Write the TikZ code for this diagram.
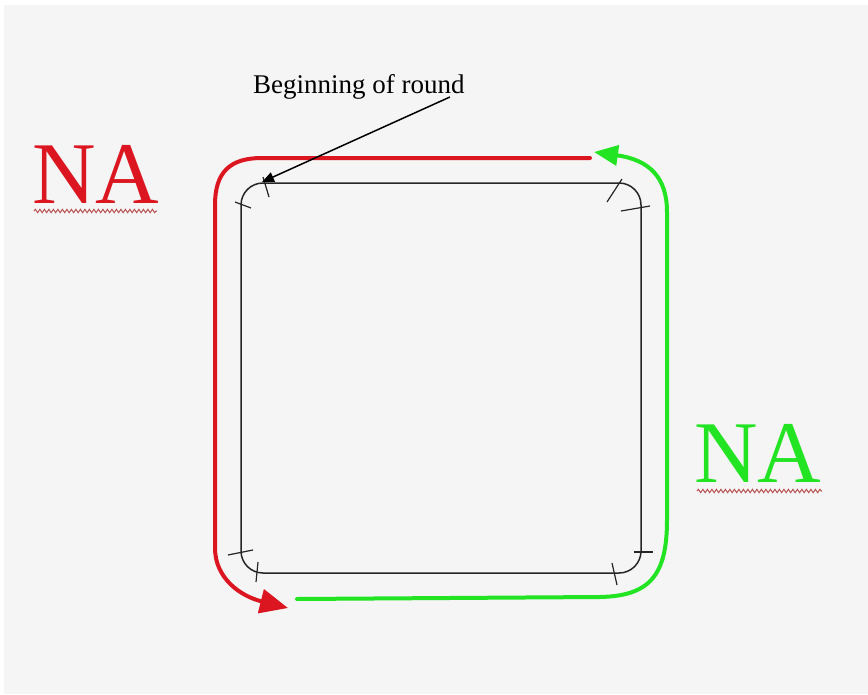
\documentclass[tikz,border=0pt]{standalone}
\usepackage{fontspec}
\setmainfont{Liberation Serif}
\usepackage{tikz}
\usetikzlibrary{arrows.meta,decorations.pathmorphing}
\definecolor{bggray}{RGB}{245,245,245}
\definecolor{nared}{RGB}{220,22,32}
\definecolor{nagreen}{RGB}{35,228,35}
\definecolor{squig}{RGB}{185,80,80}

\begin{document}
\begin{tikzpicture}[x=1pt,y=-1pt,
  redpath/.style={nared,line width=4pt,line cap=round},
  greenpath/.style={nagreen,line width=4pt,line cap=round},
  spellmark/.style={squig,line width=1pt,decorate,decoration={snake,amplitude=1.7pt,segment length=4.5pt}},
  bigna/.style={anchor=base west,inner sep=0pt,font=\fontsize{88}{90}\selectfont},
  pointer/.style={black,line width=1.5pt,-{Triangle[length=12pt,width=10pt]}}]
\useasboundingbox (0,0) rectangle (868,694);
\fill[bggray] (4,5) rectangle (868,694);

% round
\draw[black!85,line width=1.5pt,rounded corners=22pt] (241,183) rectangle (641,573);
\foreach \ax/\ay/\bx/\by in {263/177/269/197, 235/202/251/208, 607/202/622/179, 621/211/650/206,
                   228/555/253/550, 258/562/256/582, 634/552/653/552, 612/563/617/585}
  \draw[black!85,line width=1.2pt] (\ax,\ay) -- (\bx,\by);

% red half
\draw[redpath,-{Triangle[length=28pt,width=24pt]}] (590,158) -- (262,158)
  .. controls (230,158) and (215,172) .. (215,205) -- (215,548)
  .. controls (215,578) and (240,596) .. (288,608);
% green half
\draw[greenpath,-{Triangle[length=24pt,width=20pt]}] (297,599) -- (600,597)
  .. controls (650,596) and (667,575) .. (667,520) -- (667,212)
  .. controls (667,178) and (650,160) .. (594,152);

\node[bigna,nared] (nared) at (32,203) {NA};
\node[bigna,nagreen] (nagreen) at (694,482) {NA};
\draw[spellmark] (34,211) -- (157,211);
\draw[spellmark] (697,491) -- (822,491);

\node[anchor=base west,inner sep=0pt,font=\fontsize{27}{29}\selectfont] (start) at (253,93) {Beginning of round};
\coordinate (roundstart) at (262,182);
\draw[pointer] ([xshift=-15pt,yshift=2pt]start.south east) -- (roundstart);
\end{tikzpicture}
\end{document}
